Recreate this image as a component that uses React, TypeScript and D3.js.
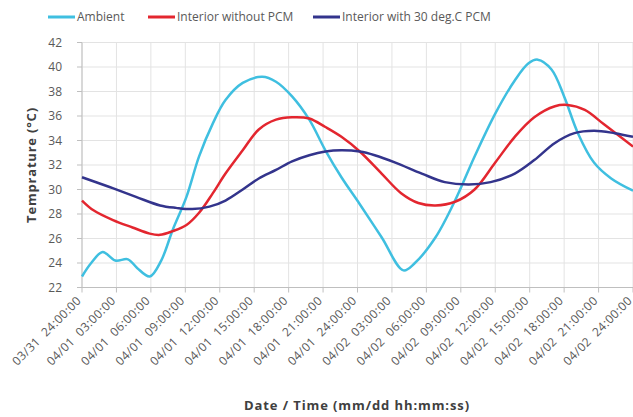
import * as React from 'react'
import * as d3 from 'd3'

// hours since 03/31 24:00:00, readings per series
const ambientHours = [0, 0.8, 1.8, 2.9, 4, 4.8, 5.9, 6.9, 7.9, 9.1, 10.2, 11.4, 12.5, 14, 15.7, 16.9, 18.3, 19.8, 21.2, 22.6, 24.2, 26.1, 28, 29, 30.8, 32.5, 34.2, 36, 37.7, 38.9, 39.7, 40.9, 42, 43.2, 44.6, 46.1, 48]
const ambientTemps = [22.9, 24.0, 24.9, 24.2, 24.3, 23.6, 22.9, 24.2, 26.7, 29.4, 32.7, 35.4, 37.3, 38.7, 39.2, 38.8, 37.6, 35.7, 33.2, 31.0, 28.8, 26.1, 23.4, 24.0, 26.1, 29.1, 32.7, 36.2, 38.9, 40.3, 40.6, 39.8, 37.6, 34.6, 32.2, 30.9, 29.9]

const noPcmHours = [0, 1, 2.7, 4.4, 5.9, 6.8, 7.9, 9.1, 10.2, 11.4, 12.5, 14, 15.4, 16.9, 18.3, 19.8, 21.2, 22.6, 24.2, 26.1, 27.8, 29.3, 30.8, 32.5, 34.2, 36, 37.7, 39.4, 41.2, 42.3, 43.8, 45.5, 48]
const noPcmTemps = [29.1, 28.3, 27.5, 26.9, 26.4, 26.3, 26.6, 27.1, 28.1, 29.7, 31.3, 33.2, 34.9, 35.7, 35.9, 35.8, 35.1, 34.3, 33.1, 31.3, 29.7, 28.9, 28.7, 29.0, 30.0, 32.2, 34.3, 35.9, 36.8, 36.9, 36.5, 35.3, 33.5]

const pcmHours = [0, 2.4, 4.7, 6.8, 8.2, 9.6, 11.1, 12.5, 14, 15.4, 16.9, 18.3, 19.8, 21.2, 22.6, 24.2, 25.5, 27.3, 29.6, 31.6, 33.7, 35.6, 37.7, 39.4, 41.2, 42.9, 44.6, 46.4, 48]
const pcmTemps = [31.0, 30.2, 29.4, 28.7, 28.5, 28.4, 28.6, 29.1, 30.0, 30.9, 31.6, 32.3, 32.8, 33.1, 33.2, 33.1, 32.8, 32.2, 31.3, 30.6, 30.4, 30.6, 31.3, 32.4, 33.8, 34.6, 34.8, 34.6, 34.3]

const xTickLabels = [
  '03/31  24:00:00', '04/01  03:00:00', '04/01  06:00:00', '04/01  09:00:00', '04/01  12:00:00',
  '04/01  15:00:00', '04/01  18:00:00', '04/01  21:00:00', '04/01  24:00:00', '04/02  03:00:00',
  '04/02  06:00:00', '04/02  09:00:00', '04/02  12:00:00', '04/02  15:00:00', '04/02  18:00:00',
  '04/02  21:00:00', '04/02  24:00:00',
]
const yTicks = [22, 24, 26, 28, 30, 32, 34, 36, 38, 40, 42]

const seriesNames = ['Ambient', 'Interior without PCM', 'Interior with 30 deg.C PCM']
const seriesColors = ['#3fbfe0', '#e3262f', '#33348c']

const W = 633
const H = 417
const left = 82
const right = 633
const top = 42.5
const bottom = 287.5
const font = "'Open Sans', 'Noto Sans', sans-serif"

export default function App() {
  const x = d3.scaleLinear().domain([0, 48]).range([left, right])
  const y = d3.scaleLinear().domain([22, 42]).range([bottom, top])
  const line = d3.line<[number, number]>()
    .x(d => x(d[0]))
    .y(d => y(d[1]))
    .curve(d3.curveCatmullRom)

  const series = [
    d3.zip(ambientHours, ambientTemps),
    d3.zip(noPcmHours, noPcmTemps),
    d3.zip(pcmHours, pcmTemps),
  ] as [number, number][][]

  const tickHours = xTickLabels.map((_, i) => i * 3)
  const legendX = [48, 148, 313]

  return <svg width={W} height={H} style={{ position: 'absolute', left: 0, top: 0, background: '#fff' }} fontFamily={font}>
    {/* grid */}
    <g stroke='#e3e3e3' strokeWidth={1}>
      {yTicks.map(t => <line key={'h' + t} x1={left} x2={right} y1={y(t)} y2={y(t)} />)}
      {tickHours.map(h => <line key={'v' + h} x1={x(h)} x2={x(h)} y1={top} y2={bottom} />)}
    </g>
    {/* axes */}
    <g stroke='#bfbfbf' strokeWidth={1}>
      <line x1={left} x2={left} y1={top} y2={bottom} />
      <line x1={left} x2={right} y1={bottom} y2={bottom} />
      {yTicks.map(t => <line key={'yt' + t} x1={left - 5} x2={left} y1={y(t)} y2={y(t)} />)}
      {tickHours.map(h => <line key={'xt' + h} x1={x(h)} x2={x(h)} y1={bottom} y2={bottom + 5} />)}
    </g>
    <g fill='#595959' fontSize={12}>
      {yTicks.map(t => <text key={'yl' + t} x={left - 20} y={y(t)} dy='0.35em' textAnchor='end'>{t}</text>)}
      {tickHours.map((h, i) => (
        <text key={'xl' + h} transform={`translate(${x(h) - 3},${bottom + 11}) rotate(-45)`} textAnchor='end' dy='0.35em'
          letterSpacing={0.4} xmlSpace='preserve'>
          {xTickLabels[i]}
        </text>
      ))}
    </g>
    {/* lines */}
    {series.map((s, i) => (
      <path key={seriesNames[i]} d={line(s) ?? ''} fill='none' stroke={seriesColors[i]} strokeWidth={2.5} />
    ))}
    {/* titles */}
    <text transform={`translate(36,${(top + bottom) / 2}) rotate(-90)`} textAnchor='middle' fontSize={13} fontWeight='bold'
      letterSpacing={0.8} fill='#404040'>
      Temprature (°C)
    </text>
    <text x={357} y={410} textAnchor='middle' fontSize={13} fontWeight='bold' letterSpacing={0.9} fill='#404040'>
      Date / Time (mm/dd hh:mm:ss)
    </text>
    {/* legend */}
    <g fontSize={12} fill='#595959'>
      {seriesNames.map((n, i) => (
        <g key={n} transform={`translate(${legendX[i]},17)`}>
          <line x1={0} x2={27} y1={0} y2={0} stroke={seriesColors[i]} strokeWidth={3} />
          <text x={29} y={0} dy='0.35em'>{n}</text>
        </g>
      ))}
    </g>
  </svg>
}
